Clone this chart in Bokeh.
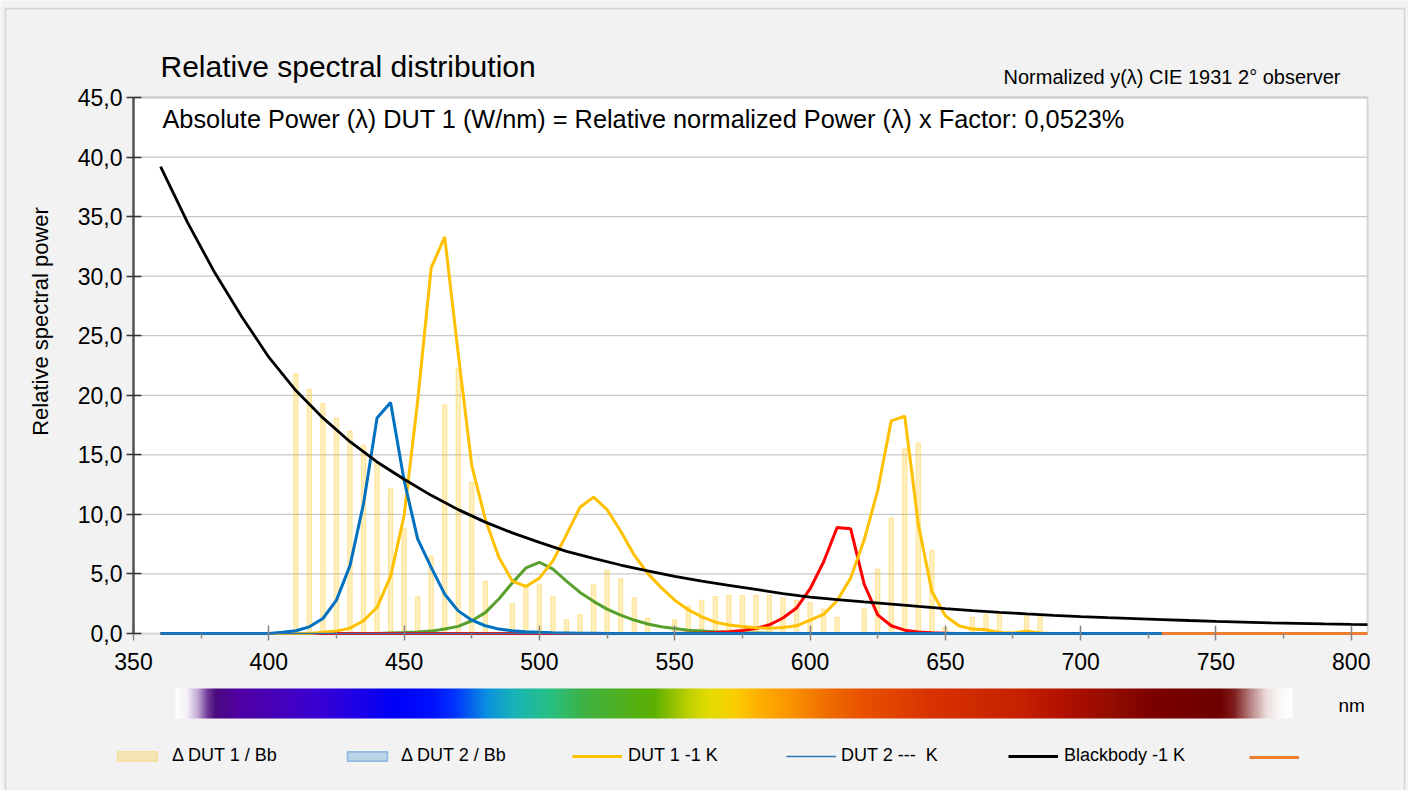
import math
from bokeh.plotting import figure
from bokeh.models import (Range1d, FixedTicker, Label, Legend, LegendItem, ColorBar,
                          LinearColorMapper, BoxAnnotation)
from bokeh.embed import file_html
from bokeh.resources import INLINE

# ---------------- data ----------------
wl = list(range(360, 735, 5))  # 360 ... 730 nm, 5 nm steps

dut1 = [0, 0, 0, 0, 0, 0, 0, 0, 0, 0, 0, 0,            # 360-415
        0.1, 0.2, 0.45, 1.07, 2.2, 4.8, 9.9, 19.5, 30.7, 33.3,   # 420-465
        23.5, 14.1, 9.6, 6.4, 4.4, 3.95, 4.65, 6.1, 8.3, 10.6,   # 470-515
        11.45, 10.4, 8.6, 6.6, 5.05, 3.85, 2.8, 2.0, 1.4, 0.95,  # 520-565
        0.72, 0.58, 0.48, 0.45, 0.5, 0.65, 1.13, 1.6, 2.75, 4.65,  # 570-615
        7.85, 12.0, 17.85, 18.24, 9.2, 3.55, 1.49, 0.65, 0.37, 0.31,  # 620-665
        0.08, 0.05, 0.2, 0.05, 0, 0, 0, 0, 0, 0, 0, 0, 0]          # 670-730

blue_curve = [0, 0, 0, 0, 0, 0, 0, 0, 0,                 # 360-400
              0.1, 0.23, 0.56, 1.26, 2.8, 5.7, 10.9, 18.1, 19.4, 12.85,  # 405-450
              7.95, 5.55, 3.3, 1.9, 1.12, 0.65, 0.37, 0.23, 0.15, 0.1,   # 455-500
              0.07, 0.05, 0.03, 0.02] + [0] * 42                         # 505-730

green_curve = [0] * 17 + [                               # 360-440
               0.05, 0.08, 0.12, 0.2, 0.37, 0.6, 1.07, 1.75, 2.9, 4.25,  # 445-490
               5.5, 5.98, 5.4, 4.4, 3.45, 2.7, 2.05, 1.55, 1.13, 0.8,    # 495-540
               0.56, 0.42, 0.28, 0.22, 0.15, 0.1, 0.07, 0.05, 0.03] + [0] * 29  # 545-730

red_curve = [0] * 39 + [                                 # 360-550
             0.02, 0.04, 0.08, 0.14, 0.25, 0.42, 0.73, 1.3, 2.14, 3.74,  # 555-600
             6.0, 8.9, 8.8, 4.15, 1.57, 0.65, 0.28, 0.13, 0.06, 0.03] + [0] * 16  # 605-730

dut2 = [0] * 75

wl_orange = [730, 806]
orange_vals = [0, 0]

wl_bb = list(range(360, 810, 10)) + [806]
blackbody = [39.2, 34.5, 30.3, 26.6, 23.2, 20.4, 18.1, 16.1, 14.4, 12.95,
             11.6, 10.4, 9.35, 8.45, 7.65, 6.9, 6.3, 5.75, 5.25, 4.8,
             4.4, 4.05, 3.7, 3.35, 3.05, 2.85, 2.65, 2.47, 2.27, 2.08,
             1.92, 1.78, 1.65, 1.53, 1.42, 1.33, 1.25, 1.17, 1.09, 1.02,
             0.96, 0.9, 0.85, 0.8, 0.76, 0.74]

wl_delta = list(range(410, 690, 5))
delta_dut1 = [21.8, 20.5, 19.3, 18.1, 17.0, 15.8, 14.4, 12.2, 8.8, 3.1,
              6.5, 19.2, 22.3, 12.7, 4.4, 0, 2.5, 4.0, 4.1, 3.1,
              1.15, 1.6, 4.1, 5.3, 4.6, 3.0, 1.3, 0, 1.15, 2.3,
              2.8, 3.1, 3.2, 3.2, 3.2, 3.2, 3.0, 2.8, 2.6, 2.05,
              1.35, 0, 2.05, 5.4, 9.7, 15.5, 16.0, 7.0, 0.5, 0,
              1.35, 1.6, 1.6, 0, 1.5, 1.4]
wl_delta2 = list(range(410, 690, 5))
delta_dut2 = [0] * 56

x_ticks = [350, 400, 450, 500, 550, 600, 650, 700, 750, 800]
x_minor = [375, 425, 475, 525, 575, 625, 675, 725, 775]
y_ticks = [0, 5, 10, 15, 20, 25, 30, 35, 40, 45]
y_labels = ["0,0", "5,0", "10,0", "15,0", "20,0", "25,0", "30,0", "35,0", "40,0", "45,0"]
X_MIN, X_MAX = 350, 806
Y_MIN, Y_MAX = 0, 45

title_text = "Relative spectral distribution"
subtitle_text = "Normalized y(λ) CIE 1931 2° observer"
note_text = "Absolute Power (λ) DUT 1 (W/nm) = Relative normalized Power (λ) x Factor: 0,0523%"
ylabel_text = "Relative spectral power"
unit_text = "nm"
legend_labels = ["Δ DUT 1 / Bb", "Δ DUT 2 / Bb", "DUT 1 -1 K", "DUT 2 ---  K", "Blackbody -1 K", " "]

# spectrum colour stops for the colour strip (style)
spectrum_stops = [(364.8, "#ffffff"), (369.0, "#f4eff7"), (373.0, "#c0a6d2"), (376.5, "#6e3a98"),
                  (379.5, "#4a0a80"), (388.0, "#5000a2"), (417.0, "#3a00d2"), (446.0, "#0000f8"),
                  (460.0, "#0010ff"), (468.0, "#0032ff"), (480.0, "#0a90e0"), (490.0, "#18b4b8"),
                  (504.0, "#28c080"), (517.0, "#40b040"), (542.0, "#5cb000"), (555.0, "#c0d000"),
                  (562.0, "#e2dc00"), (571.0, "#f8d000"), (581.0, "#ffb000"), (594.0, "#fa9000"),
                  (605.0, "#f07000"), (620.0, "#e85000"), (645.0, "#d83200"), (678.0, "#c62000"),
                  (695.0, "#b01000"), (712.0, "#920c00"), (728.0, "#7a0000"), (752.0, "#6e0000"),
                  (757.0, "#7e1c1c"), (763.0, "#b88080"), (769.0, "#ecdcdc"), (774.0, "#fbf7f7"),
                  (778.5, "#ffffff")]


def _hex(c):
    return int(c[1:3], 16), int(c[3:5], 16), int(c[5:7], 16)


def spectrum_palette(n):
    lo, hi = spectrum_stops[0][0], spectrum_stops[-1][0]
    out = []
    for i in range(n):
        w = lo + (hi - lo) * i / (n - 1)
        for (w0, c0), (w1, c1) in zip(spectrum_stops[:-1], spectrum_stops[1:]):
            if w0 <= w <= w1:
                t = (w - w0) / (w1 - w0) if w1 > w0 else 0
                a, b = _hex(c0), _hex(c1)
                rgb = [round(a[k] + (b[k] - a[k]) * t) for k in range(3)]
                out.append("#%02x%02x%02x" % tuple(rgb))
                break
    return out


FONT = "Liberation Sans"

# ---------------- layout (pixels) ----------------
W, H = 1408, 790
PL, PR, PT, PB = 133, 1367, 97, 633      # plot-area edges on the canvas
kx = (PR - PL) / (X_MAX - X_MIN)
ky = (PB - PT) / (Y_MAX - Y_MIN)
x_range = Range1d(X_MIN - PL / kx, X_MAX + (W - PR) / kx)
y_range = Range1d(Y_MIN - (H - PB) / ky, Y_MAX + PT / ky)

p = figure(width=W, height=H, x_range=x_range, y_range=y_range,
           output_backend="svg", toolbar_location=None,
           min_border_left=0, min_border_right=0, min_border_top=0, min_border_bottom=0)
p.border_fill_color = "#f2f2f2"
p.background_fill_color = "#f2f2f2"
p.outline_line_color = None
p.xgrid.visible = False
p.ygrid.visible = False

# outer chart border and white plot area
p.add_layout(BoxAnnotation(left=5, right=1404, top=H - 8, bottom=-20,
                           left_units="screen", right_units="screen", top_units="screen", bottom_units="screen",
                           fill_color=None, line_color="#8c8c8c", line_width=1.5, level="underlay"))
p.add_layout(BoxAnnotation(left=X_MIN, right=X_MAX, bottom=Y_MIN, top=Y_MAX,
                           fill_color="white", fill_alpha=1, line_color="#868686", line_width=2,
                           level="underlay"))

# horizontal grid lines
p.segment(x0=X_MIN, x1=X_MAX, y0=y_ticks[1:], y1=y_ticks[1:], line_color="#c8c8c8", line_width=1.3)

# axes pinned to the plot area
p.xaxis.fixed_location = Y_MIN
p.xaxis.bounds = (X_MIN, X_MAX)
p.yaxis.fixed_location = X_MIN
p.yaxis.bounds = (Y_MIN, Y_MAX)
p.xaxis.ticker = FixedTicker(ticks=x_ticks, minor_ticks=x_minor)
p.yaxis.ticker = FixedTicker(ticks=y_ticks)
p.yaxis.major_label_overrides = {t: s for t, s in zip(y_ticks, y_labels)}

for ax in (p.xaxis[0], p.yaxis[0]):
    ax.major_label_text_font = FONT
    ax.major_label_text_font_size = "23px"
    ax.major_label_text_color = "black"
    ax.major_tick_in = 8
    ax.major_tick_out = 7
    ax.minor_tick_in = 0
    ax.minor_tick_out = 5
p.xaxis.axis_line_color = None
p.xaxis.major_tick_line_color = "#868686"
p.xaxis.major_tick_line_width = 1.5
p.xaxis.minor_tick_line_color = "#868686"
p.xaxis.minor_tick_line_width = 1.5
p.xaxis.major_label_standoff = 12
p.yaxis.axis_line_color = "#555555"
p.yaxis.axis_line_width = 2.5
p.yaxis.major_tick_line_color = "#333333"
p.yaxis.major_tick_line_width = 1.5
p.yaxis.minor_tick_line_color = None
p.yaxis.major_label_standoff = 4

# ---------------- glyphs ----------------
r_d1 = p.vbar(x=wl_delta, top=delta_dut1, width=1.6, bottom=0,
              fill_color="#FFC000", fill_alpha=0.25, line_color="#FFC000", line_alpha=0.35, line_width=1)
r_d2 = p.vbar(x=wl_delta2, top=delta_dut2, width=1.6, bottom=0,
              fill_color="#5B9BD5", fill_alpha=0.35, line_color="#5B9BD5", line_alpha=0.6, line_width=1.5)

p.line(wl, green_curve, line_color="#58A02C", line_width=3)
p.line(wl, red_curve, line_color="#FF0000", line_width=3)
r_dut1 = p.line(wl, dut1, line_color="#FFC000", line_width=3)
p.line(wl, blue_curve, line_color="#0070C0", line_width=3)
r_dut2 = p.line(wl, dut2, line_color="#2E75B6", line_width=1.5)
r_or = p.line(wl_orange, orange_vals, line_color="#ED7D31", line_width=3)
r_bb = p.line(wl_bb, blackbody, line_color="black", line_width=2.8)

# ---------------- texts (screen units from the canvas bottom-left) ----------------
def label(text, x, y_mid, size, **kw):
    p.add_layout(Label(x=x, y=H - y_mid, x_units="screen", y_units="screen", text=text,
                       text_font=FONT, text_font_size=size, text_color="black",
                       text_baseline="middle", **kw))


label(title_text, 160, 66, "30px")
label(subtitle_text, 1340, 76.5, "20px", text_align="right")
label(note_text, 162, 118.5, "25.3px")
label(ylabel_text, 40, 321, "22px", angle=math.pi / 2, text_align="center")
label(unit_text, 1338, 705, "19px")

# ---------------- spectrum strip ----------------
mapper = LinearColorMapper(palette=spectrum_palette(1117), low=0, high=1)
cb = ColorBar(color_mapper=mapper, location=(175, H - 718), orientation="horizontal", width=1117, height=30,
              padding=0, margin=0, ticker=FixedTicker(ticks=[]), major_label_text_font_size="0px",
              major_tick_line_color=None, minor_tick_line_color=None, bar_line_color=None,
              border_line_color=None, background_fill_alpha=0)
p.add_layout(cb)

# ---------------- legend ----------------
leg_specs = [(r_d1, 112, 10), (r_d2, 342, 9), (r_dut1, 572, 6), (r_dut2, 786, 5), (r_bb, 1008, 6), (r_or, 1249, 6)]
for (rend, vx, stand), lab in zip(leg_specs, legend_labels):
    lg = Legend(items=[LegendItem(label=lab, renderers=[rend])], location=(vx, H - 766),
                orientation="horizontal", glyph_width=50, glyph_height=12, label_standoff=stand,
                padding=0, margin=0, spacing=0, border_line_color=None, background_fill_alpha=0,
                label_text_font=FONT, label_text_font_size="18px", label_text_color="black",
                label_height=18)
    p.add_layout(lg)

open("out.html", "w").write(file_html(p, INLINE))
